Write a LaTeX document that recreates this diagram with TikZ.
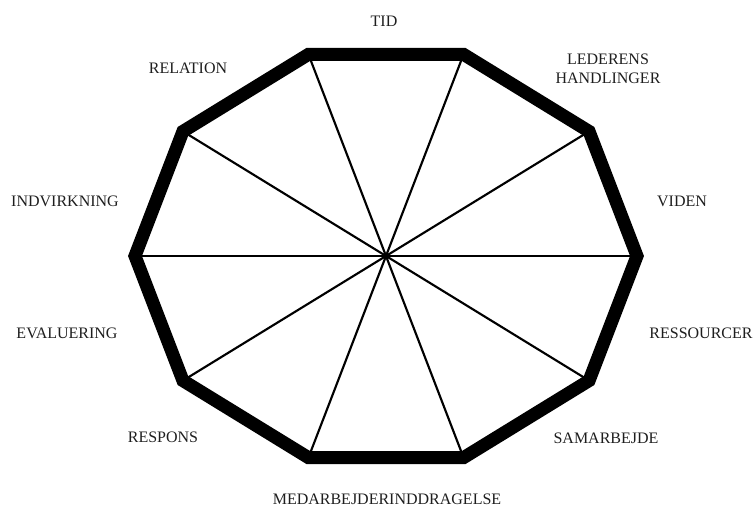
\documentclass[tikz,border=0pt]{standalone}
\usepackage{fontspec}
\setmainfont{Liberation Serif}
\usepackage{xcolor}
\definecolor{inkgrey}{RGB}{30,30,30}
\begin{document}
\begin{tikzpicture}[x=0.75pt, y=0.75pt,
    lbl/.style={inkgrey, font=\fontsize{12}{14}\selectfont, align=center, inner sep=0pt},
    rim/.style={line width=9.75pt, black},
    spoke/.style={line width=1.6pt, black}]
  \useasboundingbox (0,0) rectangle (753,511);
  % Centre and corners
  \coordinate (mid) at (386,255);
  \foreach \k in {0,...,9}{
    \path (mid) ++(\k*36:251 and 212) coordinate (v\k);
  }
  % Spokes
  \foreach \k in {0,...,9}{
    \draw[spoke] (mid) -- (v\k);
  }
  % Outer rim
  \draw[rim] (v0) -- (v1) -- (v2) -- (v3) -- (v4) -- (v5)
    -- (v6) -- (v7) -- (v8) -- (v9) -- cycle;
  % Labels
  \node[lbl] (tid) at (384,490) {TID};
  \node[lbl] (leder) at (608,442) {LEDERENS\\HANDLINGER};
  \node[lbl] (viden) at (682,310) {VIDEN};
  \node[lbl] (ress) at (701,178) {RESSOURCER};
  \node[lbl] (samar) at (606,73) {SAMARBEJDE};
  \node[lbl] (medar) at (387,12) {MEDARBEJDERINDDRAGELSE};
  \node[lbl] (respons) at (163,74) {RESPONS};
  \node[lbl] (evalu) at (67,178) {EVALUERING};
  \node[lbl] (indv) at (65,310) {INDVIRKNING};
  \node[lbl] (relation) at (188,443) {RELATION};
\end{tikzpicture}
\end{document}
